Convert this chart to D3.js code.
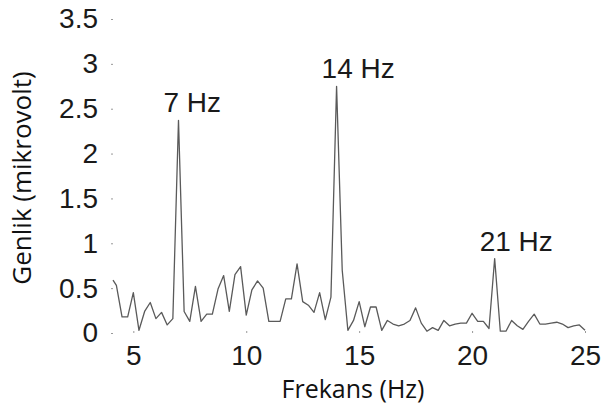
<!DOCTYPE html>
<html>
<head>
<meta charset="utf-8">
<script src="https://d3js.org/d3.v7.min.js"></script>
<style>
  body { margin: 0; background: #fff; }
</style>
</head>
<body>
<div id="graph"></div>
<script>

// spectrum
var freqs = [4.1, 4.25, 4.5, 4.75, 5, 5.25, 5.5, 5.75, 6, 6.25, 6.5, 6.75,
  7, 7.25, 7.5, 7.75, 8, 8.25, 8.5, 8.75, 9, 9.25, 9.5, 9.75,
  10, 10.25, 10.5, 10.75, 11, 11.25, 11.5, 11.75, 12, 12.25, 12.5, 12.75,
  13, 13.25, 13.5, 13.75, 14, 14.25, 14.5, 14.75, 15, 15.25, 15.5, 15.75,
  16, 16.25, 16.5, 16.75, 17, 17.25, 17.5, 17.75, 18, 18.25, 18.5, 18.75,
  19, 19.25, 19.5, 19.75, 20, 20.25, 20.5, 20.75, 21, 21.25, 21.5, 21.75,
  22, 22.25, 22.5, 22.75, 23, 23.25, 23.5, 23.75, 24, 24.25, 24.5, 24.75, 25];
var amps = [0.59, 0.53, 0.18, 0.18, 0.45, 0.03, 0.24, 0.34, 0.16, 0.23, 0.09, 0.16,
  2.37, 0.24, 0.13, 0.52, 0.13, 0.21, 0.21, 0.49, 0.64, 0.24, 0.65, 0.74,
  0.20, 0.48, 0.58, 0.50, 0.13, 0.13, 0.13, 0.38, 0.38, 0.77, 0.35, 0.31,
  0.23, 0.45, 0.15, 0.40, 2.75, 0.70, 0.03, 0.14, 0.35, 0.07, 0.29, 0.29,
  0.03, 0.14, 0.10, 0.08, 0.10, 0.14, 0.28, 0.11, 0.02, 0.06, 0.03, 0.14,
  0.08, 0.10, 0.11, 0.11, 0.22, 0.13, 0.13, 0.05, 0.83, 0.02, 0.02, 0.14,
  0.08, 0.04, 0.13, 0.21, 0.10, 0.10, 0.11, 0.12, 0.10, 0.06, 0.08, 0.09, 0.03];

var peakFreqs = [7, 14, 21];
var peakLabels = ["7 Hz", "14 Hz", "21 Hz"];

var xTicks = [5, 10, 15, 20, 25];
var yTicks = [0, 0.5, 1, 1.5, 2, 2.5, 3, 3.5];
var yTickLabels = ["0", "0.5", "1", "1.5", "2", "2.5", "3", "3.5"];

var W = 602, H = 410;
var svg = d3.select("#graph").append("svg")
  .attr("width", W)
  .attr("height", H)
  .style("display", "block");

var x = d3.scaleLinear().domain([4.1, 25]).range([113, 585]);
var y = d3.scaleLinear().domain([0, 3.5]).range([333, 19]);

var tickFont = "'Liberation Sans', Arial, Helvetica, sans-serif";

// y axis: only tiny tick marks and labels
var yAxis = svg.append("g")
  .attr("transform", "translate(113,0)")
  .call(d3.axisLeft(y).tickValues(yTicks).tickSize(2).tickPadding(13)
    .tickFormat(function(d, i) { return yTickLabels[i]; }));
yAxis.select(".domain").remove();
yAxis.selectAll(".tick line").attr("stroke", "#999");
yAxis.selectAll("text")
  .attr("font-family", tickFont)
  .attr("font-size", "28px")
  .attr("fill", "#1a1a1a");

// x axis
var xAxis = svg.append("g")
  .attr("transform", "translate(0,333)")
  .call(d3.axisBottom(x).tickValues(xTicks).tickSize(-2).tickPadding(12)
    .tickFormat(d3.format("d")));
xAxis.select(".domain").remove();
xAxis.selectAll(".tick line").attr("stroke", "#999");
xAxis.selectAll("text")
  .attr("font-family", tickFont)
  .attr("font-size", "28px")
  .attr("fill", "#1a1a1a");

// spectrum line
var pts = freqs.map(function(f, i) { return [f, amps[i]]; });
svg.append("path")
  .datum(pts)
  .attr("fill", "none")
  .attr("stroke", "#5a5a5a")
  .attr("stroke-width", 1.3)
  .attr("stroke-linejoin", "round")
  .attr("d", d3.line()
    .x(function(d) { return x(d[0]); })
    .y(function(d) { return y(d[1]); }));

// peak labels
svg.selectAll(".peak")
  .data(peakFreqs)
  .enter().append("text")
    .attr("class", "peak")
    .attr("x", function(d) { return x(d) - 15; })
    .attr("y", function(d) { return y(amps[freqs.indexOf(d)]) - 8; })
    .attr("font-family", tickFont)
    .attr("font-size", "28px")
    .attr("fill", "#1a1a1a")
    .text(function(d, i) { return peakLabels[i]; });

// axis titles
svg.append("text")
  .attr("x", 353)
  .attr("y", 398)
  .attr("text-anchor", "middle")
  .attr("font-family", "'Open Sans', 'Noto Sans', sans-serif")
  .attr("font-size", "25px")
  .attr("fill", "#111")
  .text("Frekans (Hz)");

svg.append("text")
  .attr("transform", "translate(31,178) rotate(-90)")
  .attr("text-anchor", "middle")
  .attr("font-family", "'Open Sans', 'Noto Sans', sans-serif")
  .attr("font-size", "26px")
  .attr("fill", "#111")
  .text("Genlik (mikrovolt)");

</script>
</body>
</html>
